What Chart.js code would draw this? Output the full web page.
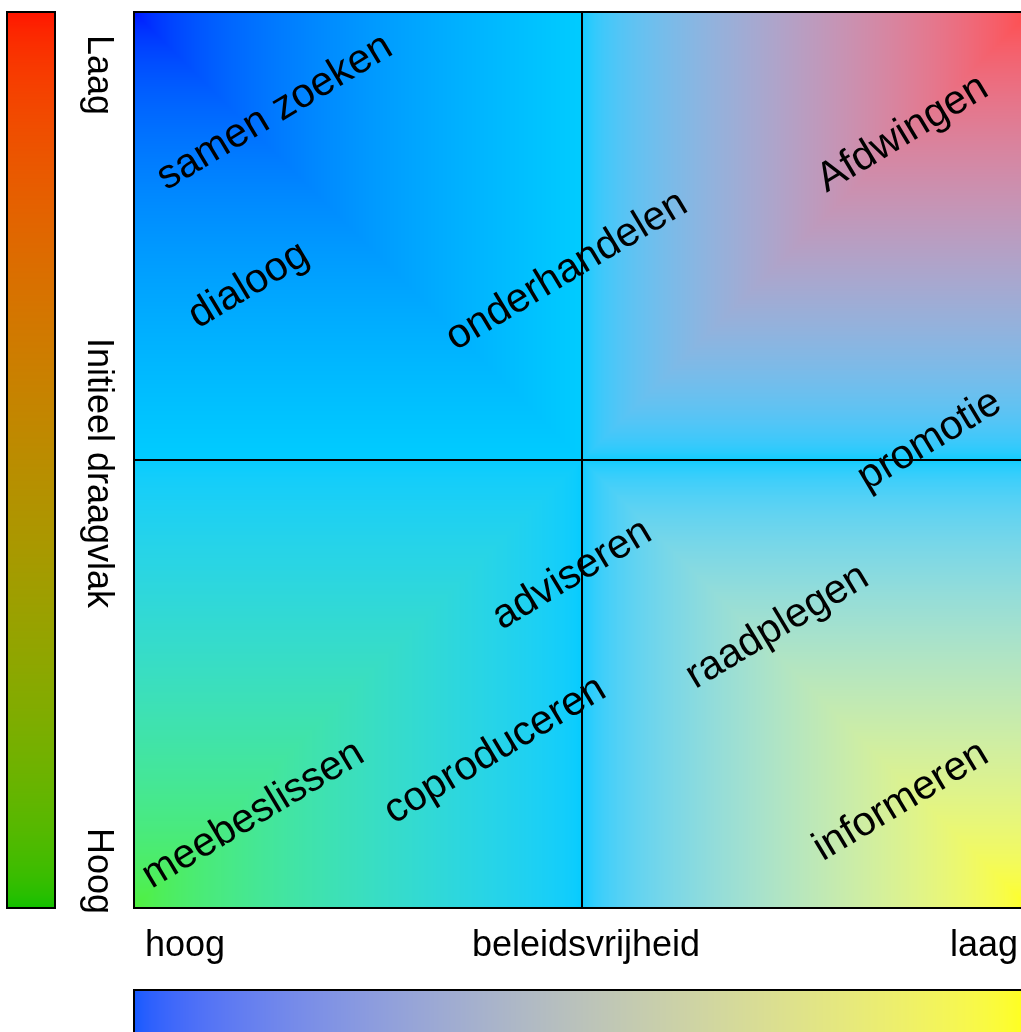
<!DOCTYPE html>
<html><head><meta charset="utf-8">
<script src="https://cdn.jsdelivr.net/npm/chart.js@4.4.0/dist/chart.umd.min.js"></script>
<style>
html,body{margin:0;padding:0;overflow:hidden;background:#fff;width:1021px;height:1032px}
#wrap{position:absolute;left:0;top:0;width:1040px;height:1040px}
canvas{display:block}
</style>
</head><body><div id="wrap"><canvas id="c" width="1040" height="1040"></canvas></div>
<script>
// ---- data ----
const categories = ['samen zoeken','dialoog','onderhandelen','Afdwingen','promotie','adviseren','raadplegen','coproduceren','meebeslissen','informeren'];
const xValues = [1.57, 1.28, 4.83, 8.58, 8.88, 4.89, 7.18, 4.03, 1.33, 8.56];
const yValues = [8.88, 6.95, 7.11, 8.64, 5.22, 3.72, 3.14, 1.76, 1.04, 1.19];
const xTickLabels = ['hoog','beleidsvrijheid','laag'];
const yTickLabels = ['Hoog','Initieel draagvlak','Laag'];
const tickValues = [0, 5, 10];
const cornerTL = [0,16,255], cornerTR = [255,76,76], cornerBL = [80,240,60], cornerBR = [255,255,16];
const centerColor = [0,204,255];
const leftBarColors = [[255,20,0],[16,192,0]];
const bottomBarColors = [[20,90,255],[255,255,16]];

// ---- colour helpers (interpolation in linear light) ----
const toLinLUT = new Float32Array(256);
for (let i=0;i<256;i++) toLinLUT[i] = Math.pow(i/255, 2.2);
const N = 4096, toSrgbLUT = new Uint8ClampedArray(N+1);
for (let i=0;i<=N;i++) toSrgbLUT[i] = Math.round(255*Math.pow(i/N, 1/2.2));
const lin = c => c.map(v => toLinLUT[v]);
function mixLin(a, b, t){
  return [0,1,2].map(k => toSrgbLUT[Math.round((a[k]*(1-t)+b[k]*t)*N)]);
}

let bgCache = null;
function buildBackground(W, H){
  const cv = document.createElement('canvas'); cv.width=W; cv.height=H;
  const c2 = cv.getContext('2d'); const img = c2.createImageData(W,H); const d = img.data;
  const K = lin(centerColor), TL=lin(cornerTL), TR=lin(cornerTR), BL=lin(cornerBL), BR=lin(cornerBR);
  for (let y=0;y<H;y++){
    const v = (y+0.5)/H;
    for (let x=0;x<W;x++){
      const u = (x+0.5)/W;
      let C, du, dv;
      if (u<0.5 && v<0.5){ C=TL; du=u*2; dv=v*2; }
      else if (u>=0.5 && v<0.5){ C=TR; du=(1-u)*2; dv=v*2; }
      else if (u<0.5){ C=BL; du=u*2; dv=(1-v)*2; }
      else { C=BR; du=(1-u)*2; dv=(1-v)*2; }
      const w = Math.max(0, 1-Math.max(du,dv));
      const i = (y*W+x)*4;
      for (let k=0;k<3;k++) d[i+k] = toSrgbLUT[Math.round((K[k]*(1-w)+C[k]*w)*N)];
      d[i+3]=255;
    }
  }
  c2.putImageData(img,0,0);
  return cv;
}
function drawBar(ctx, x, y, w, h, cols, vertical){
  const a = lin(cols[0]), b = lin(cols[1]);
  const n = vertical ? h : w;
  for (let i=0;i<n;i++){
    const t = n>1 ? i/(n-1) : 0;
    const c = mixLin(a,b,t);
    ctx.fillStyle = `rgb(${c[0]},${c[1]},${c[2]})`;
    if (vertical) ctx.fillRect(x, y+i, w, 1); else ctx.fillRect(x+i, y, 1, h);
  }
  ctx.strokeStyle='#000'; ctx.lineWidth=2; ctx.strokeRect(x, y, w, h);
}

const bgPlugin = {
  id:'bg',
  beforeDraw(chart){
    const {ctx, chartArea:a} = chart;
    const W = Math.round(a.right-a.left), H = Math.round(a.bottom-a.top);
    if (!bgCache || bgCache.width!==W || bgCache.height!==H) bgCache = buildBackground(W,H);
    ctx.save();
    ctx.drawImage(bgCache, a.left, a.top);
    drawBar(ctx, a.left-127, a.top, 48, a.bottom-a.top, leftBarColors, true);
    drawBar(ctx, a.left, a.bottom+82, a.right-a.left, 48, bottomBarColors, false);
    ctx.restore();
  },
  afterDraw(chart){
    const {ctx, chartArea:a, scales} = chart;
    ctx.save();
    ctx.fillStyle='#000';
    ctx.font='36px "Liberation Sans", Arial, sans-serif';
    ctx.textBaseline='alphabetic';
    const xs = tickValues.map(v => scales.x.getPixelForValue(v));
    ctx.textAlign='left'; ctx.fillText(xTickLabels[0], xs[0]+11, a.bottom+48);
    ctx.textAlign='center'; ctx.fillText(xTickLabels[1], xs[1]+4, a.bottom+48);
    ctx.textAlign='right'; ctx.fillText(xTickLabels[2], xs[2]-12, a.bottom+48);
    const ys = tickValues.map(v => scales.y.getPixelForValue(v));
    const bx = a.left-46;
    const drawRot = (txt, y, align) => { ctx.save(); ctx.translate(bx, y); ctx.rotate(Math.PI/2); ctx.textAlign=align; ctx.fillText(txt,0,0); ctx.restore(); };
    drawRot(yTickLabels[2], ys[2]+23, 'left');
    drawRot(yTickLabels[1], ys[1]+13, 'center');
    drawRot(yTickLabels[0], ys[0]+6, 'right');
    ctx.font='41px "Liberation Sans", Arial, sans-serif';
    ctx.textAlign='center'; ctx.textBaseline='middle';
    const meta = chart.getDatasetMeta(0);
    meta.data.forEach((pt,i)=>{
      ctx.save(); ctx.translate(pt.x, pt.y); ctx.rotate(-31*Math.PI/180);
      ctx.fillText(categories[i], 0, 0); ctx.restore();
    });
    ctx.restore();
  }
};

const axisOpts = {
  type:'linear', min:0, max:10,
  ticks:{display:false, stepSize:5},
  grid:{color:'#000', lineWidth:2, drawTicks:false},
  border:{display:true, color:'#000', width:2}
};
new Chart(document.getElementById('c'), {
  type:'scatter',
  data:{ datasets:[{ data: xValues.map((x,i)=>({x, y:yValues[i]})), pointRadius:0, pointHoverRadius:0, showLine:false }] },
  options:{
    responsive:false, animation:false, devicePixelRatio:1,
    layout:{padding:{left:134, top:12, right:10, bottom:132}},
    plugins:{legend:{display:false}, tooltip:{enabled:false}},
    scales:{ x: axisOpts, y: JSON.parse(JSON.stringify(axisOpts)) }
  },
  plugins:[bgPlugin]
});
</script>
</body></html>
